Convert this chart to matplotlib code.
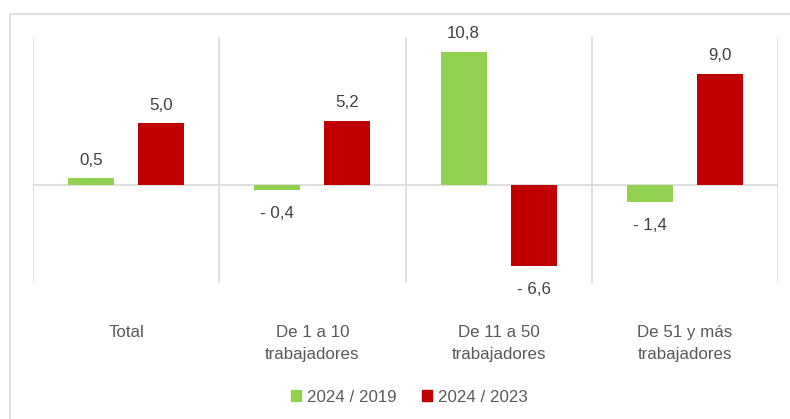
import matplotlib
matplotlib.use("Agg")
import matplotlib.pyplot as plt
from matplotlib.patches import Rectangle
import numpy as np

categories = ["Total", "De 1 a 10\ntrabajadores", "De 11 a 50\ntrabajadores", "De 51 y más\ntrabajadores"]
series_names = ["2024 / 2019", "2024 / 2023"]
v2019 = [0.5, -0.4, 10.8, -1.4]
v2023 = [5.0, 5.2, -6.6, 9.0]
colors = ["#92d050", "#c00000"]

plt.rcParams['font.family'] = ['Liberation Sans', 'DejaVu Sans']
fs = 12.2

W, H = 790, 419
fig = plt.figure(figsize=(W/100, H/100), dpi=100)

# outer chart border
fig.patches.append(Rectangle((10/W, -0.1), 1.2, 1 - 14/H + 0.1, transform=fig.transFigure,
                             fill=False, edgecolor="#d9d9d9", linewidth=1.2))

ax = fig.add_axes([33/W, 1 - 283/H, (778-33)/W, (283-37)/H])
ax.set_xlim(0, 4)
ax.set_ylim(-8, 12)
for s in ax.spines.values():
    s.set_visible(False)
ax.set_xticks([])
ax.set_yticks([])

for xv in range(5):
    ax.axvline(xv, color="#d9d9d9", linewidth=1.2, zorder=0)
ax.axhline(0, color="#d9d9d9", linewidth=1.2, zorder=0)

x = np.arange(4) + 0.5
bw = 0.247
off = 0.188
txtc = "#404040"
for vals, dx, c in [(v2019, -off, colors[0]), (v2023, off, colors[1])]:
    ax.bar(x + dx, vals, width=bw, color=c, zorder=2)
    for xi, v in zip(x + dx, vals):
        lab = f"{abs(v):.1f}".replace(".", ",")
        if v < 0:
            lab = "- " + lab
            ax.annotate(lab, (xi, v), xytext=(0, -12), textcoords="offset points",
                        ha="center", va="top", fontsize=fs, color=txtc)
        else:
            ax.annotate(lab, (xi, v), xytext=(0, 7.5), textcoords="offset points",
                        ha="center", va="bottom", fontsize=fs, color=txtc)

for xi, cat in zip(x, categories):
    fig.text((33 + xi * (778-33)/4)/W, 1 - 325/H, cat, ha="center", va="top",
             fontsize=fs, color="#595959", linespacing=1.55)

# legend
handles = [Rectangle((0, 0), 1, 1, color=c) for c in colors]
fig.legend(handles, series_names, loc="center", bbox_to_anchor=(409/W, 1 - 397/H),
           ncol=2, frameon=False, fontsize=fs, handlelength=0.6, handleheight=0.6,
           handletextpad=0.35, columnspacing=1.5, labelcolor="#595959")

fig.savefig("out.png", dpi=100)
